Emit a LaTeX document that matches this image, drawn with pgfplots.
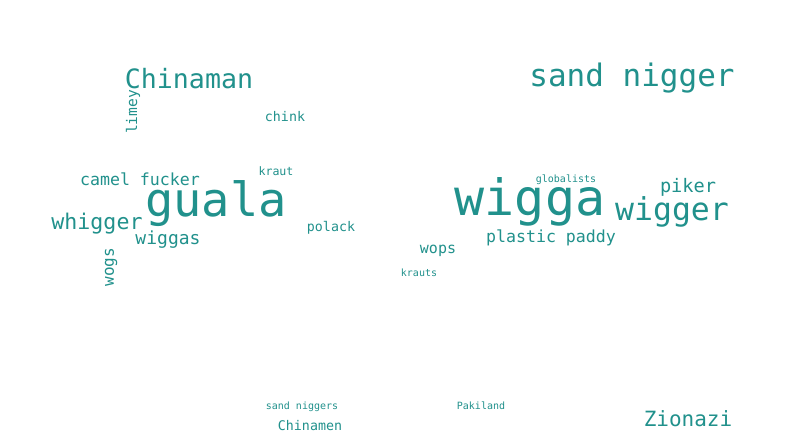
\documentclass[border=0pt]{standalone}
\usepackage{fontspec}
\setmainfont{DejaVu Sans Mono}
\usepackage{pgfplots}
\pgfplotsset{compat=1.18}
\newcommand{\w}[6]{\definecolor{wc}{HTML}{#5}\node[text=wc,rotate=#6,inner sep=0pt,anchor=center,font=\fontsize{#4}{#4}\selectfont] at (axis cs:#1,#2) {#3};}
\begin{document}
\begin{tikzpicture}
\begin{axis}[width=799pt,height=436pt,scale only axis,hide axis,
  xmin=0,xmax=799,ymin=0,ymax=436,y dir=reverse,clip=false]
\addplot[draw=none,fill=white] coordinates {(0,0)(799,0)(799,436)(0,436)} -- cycle;
\w{216}{204}{guala}{47}{2A6F8A}{0}
\w{530}{202}{wigga}{50}{52C569}{0}
\w{632}{78}{sand nigger}{31}{2C728E}{0}
\w{189}{79}{Chinaman}{26.6}{7AD151}{0}
\w{672}{212}{wigger}{31.5}{23838E}{0}
\w{97}{224}{whigger}{21.6}{5EC962}{0}
\w{140}{179}{camel fucker}{16.6}{3BBB75}{0}
\w{168}{240}{wiggas}{18}{481467}{0}
\w{551}{238}{plastic paddy}{16.6}{453781}{0}
\w{688}{187}{piker}{18.6}{7AD151}{0}
\w{688}{419}{Zionazi}{21}{3E4A89}{0}
\w{285}{117}{chink}{13.3}{2A788E}{0}
\w{276}{171}{kraut}{11.6}{3B528B}{0}
\w{331}{228}{polack}{13.3}{440154}{0}
\w{438}{251}{wops}{15}{E5E419}{0}
\w{419}{273}{krauts}{10}{3B528B}{0}
\w{566}{180}{globalists}{10}{DDE318}{0}
\w{481}{406}{Pakiland}{10}{A0DA39}{0}
\w{302}{407}{sand niggers}{10}{2A788E}{0}
\w{310}{426}{Chinamen}{13.3}{1F9E89}{0}
\w{133}{112}{limey}{14.6}{440154}{90}
\w{111}{267}{wogs}{16}{21918C}{90}
\end{axis}
\end{tikzpicture}
\end{document}
